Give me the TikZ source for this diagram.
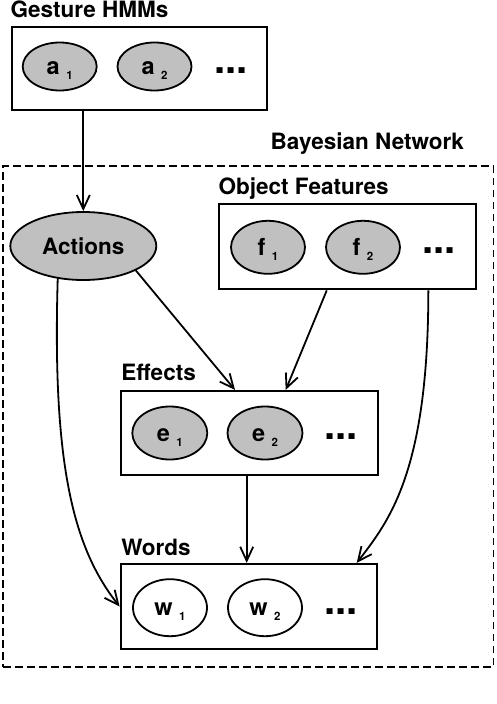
\documentclass[tikz,border=0pt]{standalone}
\usepackage{fontspec}
\setmainfont{TeX Gyre Heros}
\usetikzlibrary{shapes.geometric,arrows.meta}
\definecolor{ellgray}{RGB}{192,192,192}
\newcommand{\sbx}[2]{#1\hspace{6.5pt}\raisebox{-5pt}{\fontsize{11.5}{11.5}\selectfont #2}}
\begin{document}
\begin{tikzpicture}[x=1pt,y=-1pt,
  lbl/.style={anchor=base west, inner sep=0pt, font=\fontsize{22.5}{24}\selectfont\bfseries},
  grp/.style={draw, line width=2.2pt, inner sep=0pt},
  var/.style={ellipse, draw, line width=1.8pt, fill=ellgray, inner sep=0pt,
    minimum width=74pt, text height=16pt, text depth=0pt,
    font=\fontsize{23.5}{24}\selectfont\bfseries},
  obs/.style={var, fill=white},
  more/.style={inner sep=0pt, text height=13pt, text depth=0pt,
    font=\fontsize{40}{40}\selectfont\bfseries},
  bnbox/.style={draw, dash pattern=on 7.5pt off 4.5pt, line width=1.3pt, inner sep=0pt},
  link/.style={line width=1.8pt, -{Straight Barb[length=14pt,width=13pt]}}
]
\useasboundingbox (0,0) rectangle (496,704);

% Bayesian network frame
\node[bnbox, minimum width=490.3pt, minimum height=501pt] (bn) at (248.15,416.5) {};
\node[lbl] (bnlbl) at (270.5,149.5) {Bayesian Network};

% Gesture HMMs
\node[grp, minimum width=255pt, minimum height=83pt] (gbox) at (139.5,68.5) {};
\node[lbl] (glbl) at (10.5,17.5) {Gesture HMMs};
\node[var, minimum height=48pt] (a1) at (59.7,66.5) {\sbx{a}{1}};
\node[var, minimum height=48pt] (a2) at (154.5,66.5) {\sbx{a}{2}};
\node[more] (adots) at (230.9,66.5) {...};

% Actions
\node[var, minimum width=146pt, minimum height=68pt, text height=16.2pt,
  font=\fontsize{22.5}{24}\selectfont\bfseries] (act) at (83.3,246) {Actions};

% Object features
\node[grp, minimum width=256.7pt, minimum height=85.3pt] (ofbox) at (347.35,246.65) {};
\node[lbl] (oflbl) at (218.5,194) {Object Features};
\node[var, minimum height=53pt] (f1) at (268,247.3) {\sbx{f}{1}};
\node[var, minimum height=53pt] (f2) at (363,247.3) {\sbx{f}{2}};
\node[more] (fdots) at (438.8,247.3) {...};

% Effects
\node[grp, minimum width=257pt, minimum height=84pt] (ebox) at (249.5,433) {};
\node[lbl] (elbl) at (121.2,380) {Effects};
\node[var, minimum width=75pt, minimum height=53pt] (e1) at (169.8,433) {\sbx{e}{1}};
\node[var, minimum width=75pt, minimum height=53pt] (e2) at (265,433) {\sbx{e}{2}};
\node[more] (edots) at (340.9,433) {...};

% Words
\node[grp, minimum width=256.6pt, minimum height=85pt] (wbox) at (249,606.5) {};
\node[lbl] (wlbl) at (121.2,555) {Words};
\node[obs, minimum height=57pt] (w1) at (170,607.7) {\sbx{w}{1}};
\node[obs, minimum height=57pt] (w2) at (265,607.7) {\sbx{w}{2}};
\node[more] (wdots) at (340.9,607.7) {...};

% connectors
\draw[link] (act.north |- gbox.south) -- (act.north);
\draw[link] (act.-25) -- ([xshift=-14.5pt]ebox.north);
\draw[link] ([xshift=-20.6pt]ofbox.south) -- ([xshift=36.2pt]ebox.north);
\draw[link] ([xshift=-2.8pt]ebox.south) -- ([xshift=-2.3pt]wbox.north);
\draw[link] ([xshift=81pt]ofbox.south) .. controls (428.3,470) and (390,520) .. ([xshift=107.7pt]wbox.north);
\draw[link] (act.-128) .. controls (52,470) and (75,550) .. (wbox.west);
\end{tikzpicture}
\end{document}
